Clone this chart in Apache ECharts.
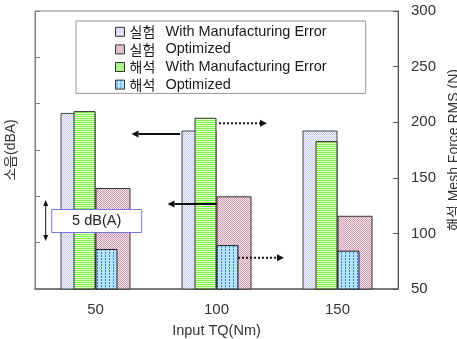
<!DOCTYPE html>
<html>
<head>
<meta charset="utf-8">
<script src="https://cdn.jsdelivr.net/npm/echarts@6/dist/echarts.min.js"></script>
<style>html,body{margin:0;padding:0;background:#fff;}#c{width:457px;height:339px;}</style>
</head>
<body>
<div id="c"></div>
<script>
// ---- data ----
const categories = ['50', '100', '150'];
const expWithError = [79.0, 77.1, 77.1];     // 실험 With Manufacturing Error (left axis, dBA)
const expOptimized = [70.9, 70.0, 67.9];     // 실험 Optimized (left axis, dBA)
const anaWithError = [210, 204, 183];        // 해석 With Manufacturing Error (right axis, N)
const anaOptimized = [86, 89.5, 84.5];       // 해석 Optimized (right axis, N)
const leftTicks = [60, 65, 70, 75, 80, 85, 90];
const rightTicks = [50, 100, 150, 200, 250, 300];
const seriesNames = ['실험 With Manufacturing Error', '실험 Optimized', '해석 With Manufacturing Error', '해석 Optimized'];

const FONT = "'Liberation Sans', Arial, 'Noto Sans CJK KR', sans-serif";

function pattern(w, h, draw) {
  const c = document.createElement('canvas');
  c.width = w; c.height = h;
  const g = c.getContext('2d');
  draw(g);
  return { image: c, repeat: 'repeat' };
}
function px(g, x, y, col) { g.fillStyle = col; g.fillRect(x, y, 1, 1); }

const lavender = pattern(2, 2, g => {
  g.fillStyle = '#f6f6ff'; g.fillRect(0, 0, 2, 2);
  px(g, 0, 0, '#c8c8f6'); px(g, 1, 1, '#c8c8f6');
});
const pink = pattern(2, 2, g => {
  g.fillStyle = '#f4e4ea'; g.fillRect(0, 0, 2, 2);
  px(g, 0, 0, '#d09ab0'); px(g, 1, 1, '#d09ab0');
});
const green = pattern(2, 2, g => {
  g.fillStyle = '#80f04c'; g.fillRect(0, 0, 2, 1);
  g.fillStyle = '#e0ffc8'; g.fillRect(0, 1, 2, 1);
});
const blue = pattern(4, 3, g => {
  g.fillStyle = '#b4e2ff'; g.fillRect(0, 0, 4, 3);
  g.fillStyle = '#3a7ef0'; g.fillRect(1, 0, 1, 2);
});

const chart = echarts.init(document.getElementById('c'), null, { renderer: 'canvas' });

function arrow(x1, y1, x2, y2, dotted) {
  const dir = Math.sign(x2 - x1);
  const headLen = 7, headHalf = 3.5;
  return [
    { type: 'line', z: 60, shape: { x1: x1, y1: y1, x2: x2 - dir * headLen, y2: y2 },
      style: { stroke: '#111', lineWidth: 2, lineDash: dotted ? [2, 2] : null } },
    { type: 'polygon', z: 60, shape: { points: [[x2, y2], [x2 - dir * headLen, y2 - headHalf], [x2 - dir * headLen, y2 + headHalf]] },
      style: { fill: '#111' } }
  ];
}

function legendLabel(name) {
  const i = name.indexOf(' ');
  return '{k|' + name.slice(0, i) + '}{t|' + name.slice(i + 1) + '}';
}

const option = {
  backgroundColor: '#fff',
  animation: false,
  grid: { left: 35, right: 59, top: 11, bottom: 50, outerBoundsMode: 'none', containLabel: false,
          show: true, borderColor: '#808080', borderWidth: 1, backgroundColor: 'transparent' },
  legend: {
    data: seriesNames,
    orient: 'vertical', left: 76, top: 21,
    padding: [2, 39, 0, 39],
    itemGap: 0, itemWidth: 9, itemHeight: 9,
    icon: 'rect',
    backgroundColor: '#fff', borderColor: '#999', borderWidth: 1,
    formatter: legendLabel,
    textStyle: {
      fontFamily: FONT, fontSize: 14.5, lineHeight: 17.6, color: '#1a1a1a',
      rich: {
        k: { width: 36, fontFamily: "'Noto Sans CJK KR', sans-serif", fontSize: 14, lineHeight: 17.6, color: '#1a1a1a' },
        t: { fontFamily: FONT, fontSize: 14.5, lineHeight: 17.6, color: '#1a1a1a' }
      }
    },
    itemStyle: { borderColor: '#333', borderWidth: 1 }
  },
  xAxis: [{
    type: 'category', data: categories,
    name: 'Input TQ(Nm)', nameLocation: 'middle', nameGap: 35,
    nameTextStyle: { fontFamily: FONT, fontSize: 14.5, color: '#333' },
    axisLine: { lineStyle: { color: '#666', width: 1.5 } },
    axisTick: { inside: true, length: 5, lineStyle: { color: '#666' } },
    axisLabel: { margin: 13, fontFamily: FONT, fontSize: 15, color: '#333' }
  }, {
    type: 'category', data: categories, show: false
  }],
  yAxis: [{
    type: 'value', position: 'left', min: leftTicks[0], max: leftTicks[leftTicks.length - 1], interval: 5,
    name: '소음(dBA)', nameLocation: 'middle', nameGap: 17, nameRotate: 90,
    nameTextStyle: { fontFamily: FONT, fontSize: 14, color: '#333' },
    axisLine: { show: true, lineStyle: { color: '#808080' } },
    axisTick: { show: true, inside: true, length: 5, lineStyle: { color: '#808080' } },
    axisLabel: { show: false },
    splitLine: { show: false }
  }, {
    type: 'value', position: 'right', min: rightTicks[0], max: rightTicks[rightTicks.length - 1], interval: 50,
    name: '해석 Mesh Force RMS (N)', nameLocation: 'middle', nameGap: 48, nameRotate: 90,
    nameTextStyle: { fontFamily: FONT, fontSize: 14, color: '#333' },
    axisLine: { show: true, lineStyle: { color: '#555' } },
    axisTick: { show: true, inside: true, length: 5, lineStyle: { color: '#555' } },
    axisLabel: { margin: 13, fontFamily: FONT, fontSize: 15, color: '#333' },
    splitLine: { show: false }
  }],
  series: [
    { name: seriesNames[0], type: 'bar', xAxisIndex: 0, yAxisIndex: 0, data: expWithError,
      barWidth: 35, barGap: '0%', itemStyle: { color: lavender, borderColor: '#444', borderWidth: 1 } },
    { name: seriesNames[1], type: 'bar', xAxisIndex: 0, yAxisIndex: 0, data: expOptimized,
      barWidth: 35, barGap: '0%', itemStyle: { color: pink, borderColor: '#333', borderWidth: 1 } },
    { name: seriesNames[2], type: 'bar', xAxisIndex: 1, yAxisIndex: 1, data: anaWithError,
      barWidth: 22, barGap: '0%', itemStyle: { color: green, borderColor: '#333', borderWidth: 1 } },
    { name: seriesNames[3], type: 'bar', xAxisIndex: 1, yAxisIndex: 1, data: anaOptimized,
      barWidth: 22, barGap: '0%', itemStyle: { color: blue, borderColor: '#222', borderWidth: 1 } }
  ],
  graphic: [].concat(
    arrow(180, 134, 131.5, 134, false),
    arrow(216.7, 204, 167.5, 204, false),
    arrow(219, 123.3, 267, 123.3, true),
    arrow(238, 257.7, 284, 257.7, true),
    [
      // 5 dB(A) scale marker
      { type: 'line', z: 60, shape: { x1: 45.7, y1: 205, x2: 45.7, y2: 236 }, style: { stroke: '#111', lineWidth: 1 } },
      { type: 'polygon', z: 60, shape: { points: [[45.7, 200], [43.2, 206], [48.2, 206]] }, style: { fill: '#111' } },
      { type: 'polygon', z: 60, shape: { points: [[45.7, 241], [43.2, 235], [48.2, 235]] }, style: { fill: '#111' } },
      { type: 'rect', z: 60, shape: { x: 51.7, y: 209.5, width: 90, height: 23 },
        style: { fill: '#fff', stroke: '#7474e4', lineWidth: 1 } },
      { type: 'text', z: 61, x: 96.7, y: 221,
        style: { text: '5 dB(A)', font: "14.5px 'Liberation Sans', Arial, sans-serif", fill: '#222', align: 'center', verticalAlign: 'middle' } }
    ]
  )
};
chart.setOption(option);
</script>
</body>
</html>
